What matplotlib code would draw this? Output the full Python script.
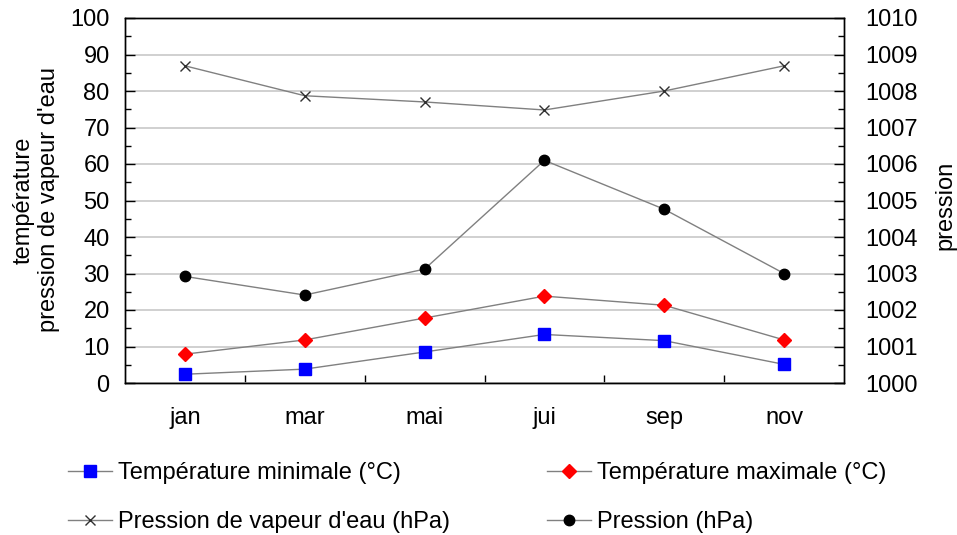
import matplotlib
matplotlib.use('Agg')
import matplotlib.pyplot as plt
from matplotlib.ticker import MultipleLocator, FixedLocator

plt.rcParams['font.family'] = ['Liberation Sans', 'DejaVu Sans']

mois = ['jan', 'mar', 'mai', 'jui', 'sep', 'nov']
temp_min = [2.4, 3.8, 8.5, 13.3, 11.6, 5.1]
temp_max = [7.9, 11.8, 17.8, 23.8, 21.3, 11.8]
vapeur = [86.9, 78.7, 77.0, 74.8, 80.0, 86.9]
pression = [1002.92, 1002.41, 1003.12, 1006.10, 1004.76, 1003.00]

fs = 17
line_col = '#808080'

fig = plt.figure(figsize=(9.57, 5.35), dpi=100)
ax = fig.add_axes([125/957, 1-383/535, (844-125)/957, (383-18)/535])
ax2 = ax.twinx()

x = list(range(len(mois)))

h1, = ax.plot(x, temp_min, color=line_col, lw=1, marker='s', ms=8,
              mfc='#0000ff', mec='#0000ff', label='Température minimale (°C)', zorder=3)
h2, = ax.plot(x, temp_max, color=line_col, lw=1, marker='D', ms=7.5,
              mfc='#ff0000', mec='#ff0000', label='Température maximale (°C)', zorder=3)
h3, = ax.plot(x, vapeur, color=line_col, lw=1, marker='x', ms=7, mew=1,
              mec='#303030', label="Pression de vapeur d'eau (hPa)", zorder=3)
h4, = ax2.plot(x, pression, color=line_col, lw=1, marker='o', ms=7.5,
               mfc='black', mec='black', label='Pression (hPa)', zorder=3)

ax.set_xlim(-0.5, 5.5)
ax.set_ylim(0, 100)
ax2.set_ylim(1000, 1010)

ax.yaxis.set_major_locator(MultipleLocator(10))
ax.yaxis.set_minor_locator(MultipleLocator(5))
ax2.yaxis.set_major_locator(MultipleLocator(1))
ax2.yaxis.set_minor_locator(MultipleLocator(0.5))
ax2.set_yticklabels([str(int(v)) for v in ax2.get_yticks()])

ax.set_xticks(x)
ax.set_xticklabels(mois)
ax.xaxis.set_minor_locator(FixedLocator([i + 0.5 for i in range(len(mois) - 1)]))

ax.grid(axis='y', which='major', color='#c8c8c8', lw=1.2)
ax.set_axisbelow(True)

ax.tick_params(axis='y', which='major', direction='in', length=7, width=1,
               labelsize=fs, pad=11, left=True)
ax.tick_params(axis='y', which='minor', direction='in', length=4, width=1)
ax.tick_params(axis='x', which='major', length=0, labelsize=fs, pad=17)
ax.tick_params(axis='x', which='minor', direction='in', length=6, width=1)
ax2.tick_params(axis='y', which='major', direction='in', length=7, width=1,
                labelsize=fs, pad=15)
ax2.tick_params(axis='y', which='minor', direction='in', length=4, width=1)

for a in (ax, ax2):
    for s in a.spines.values():
        s.set_color('black')
        s.set_linewidth(1)

fig.text(36/957, 1-200/535, "température\npression de vapeur d'eau",
         rotation=90, ha='center', va='center', fontsize=fs, linespacing=1.2)
fig.text(945/957, 1-205/535, 'pression', rotation=90, ha='center',
         va='center', fontsize=fs)

fig.legend([h1, h3, h2, h4],
           [h1.get_label(), h3.get_label(), h2.get_label(), h4.get_label()],
           ncol=2, loc='upper left', bbox_to_anchor=(68/957, 1-462/535),
           frameon=False, fontsize=fs, borderpad=0, handlelength=1.86,
           handletextpad=0.25, columnspacing=4.12, labelspacing=1.16,
           borderaxespad=0)

fig.savefig('out.png', dpi=100)
